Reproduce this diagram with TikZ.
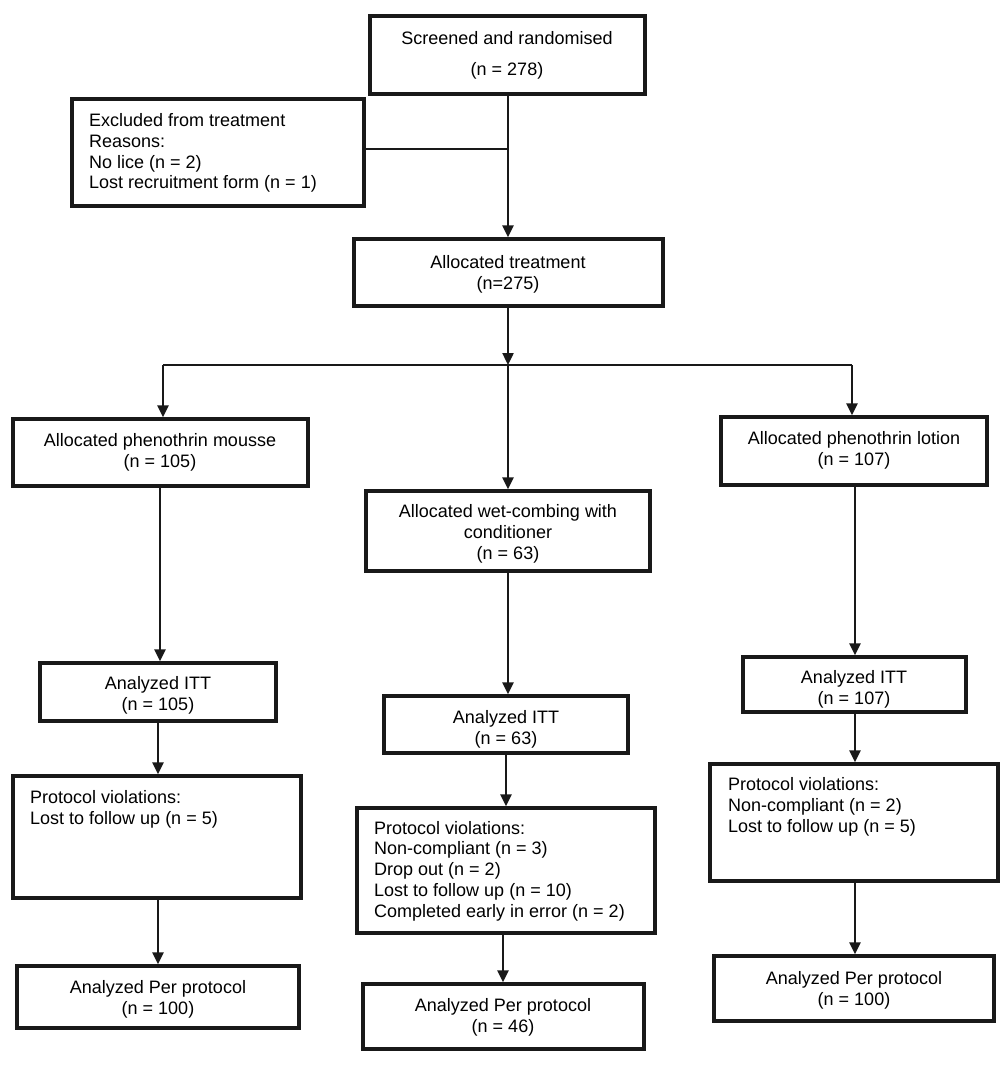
\documentclass[tikz,border=0pt]{standalone}
\usepackage{fontspec}
\setmainfont{Liberation Sans}
\usetikzlibrary{arrows.meta,fit}
\begin{document}
\begin{tikzpicture}[x=1pt,y=-1pt,
  box/.style={draw=black!90, line width=3.4pt, inner sep=0pt, fill=white},
  txt/.style={inner sep=0pt, font=\fontsize{18}{20.7}\selectfont, align=center},
  ltxt/.style={inner sep=0pt, font=\fontsize{18}{20.7}\selectfont, align=left, anchor=west},
  conn/.style={line width=2.4pt, draw=black!90},
  arr/.style={conn, -{Triangle[length=12pt,width=11pt]}}]
\useasboundingbox (0,0) rectangle (1000,1068);
% column coordinates
\coordinate (cM) at (508,0);
\coordinate (cA) at (163,0);
\coordinate (cB) at (852,0);
\coordinate (cA1) at (160,0);
\coordinate (cA2) at (158,0);
\coordinate (cW1) at (508,0);
\coordinate (cW2) at (506,0);
\coordinate (cW3) at (503,0);
\coordinate (cL) at (855,0);
% boxes
\node[box, fit={(370,16) (645,94)}] (scr) {};
\node[box, fit={(72,99) (364,206)}] (exc) {};
\node[box, fit={(354,239) (663,306)}] (alloc) {};
\node[box, fit={(13,419) (308,486)}] (mou) {};
\node[box, fit={(366,491) (650,571)}] (wet) {};
\node[box, fit={(721,417) (987,485)}] (lot) {};
\node[box, fit={(40,663) (276,721)}] (ittM) {};
\node[box, fit={(384,696) (628,753)}] (ittW) {};
\node[box, fit={(743,657) (966,712)}] (ittL) {};
\node[box, fit={(13,776) (301,898)}] (pvM) {};
\node[box, fit={(357,808) (655,933)}] (pvW) {};
\node[box, fit={(710,764) (998,881)}] (pvL) {};
\node[box, fit={(17,966) (299,1028)}] (ppM) {};
\node[box, fit={(363,984) (644,1049)}] (ppW) {};
\node[box, fit={(714,956) (994,1021)}] (ppL) {};
% texts
\node[txt] (scrT) at (507,55) {Screened and randomised\\[10pt](n = 278)};
\node[ltxt] (excT) at (89,153) {Excluded from treatment\\Reasons:\\No lice (n = 2)\\Lost recruitment form (n = 1)};
\node[txt] (allocT) at (508,274) {Allocated treatment\\(n=275)};
\node[txt] (mouT) at (160,452) {Allocated phenothrin mousse\\(n = 105)};
\node[txt] (lotT) at (854,450) {Allocated phenothrin lotion\\(n = 107)};
\node[txt] (wetT) at (508,534) {Allocated wet-combing with\\conditioner\\(n = 63)};
\node[txt] (ittMT) at (158,695) {Analyzed ITT\\(n = 105)};
\node[txt] (ittWT) at (506,729) {Analyzed ITT\\(n = 63)};
\node[txt] (ittLT) at (854,689) {Analyzed ITT\\(n = 107)};
\node[ltxt] (pvMT) at (30,809) {Protocol violations:\\Lost to follow up (n = 5)};
\node[ltxt] (pvWT) at (374,871) {Protocol violations:\\Non-compliant (n = 3)\\Drop out (n = 2)\\Lost to follow up (n = 10)\\Completed early in error (n = 2)};
\node[ltxt] (pvLT) at (728,807) {Protocol violations:\\Non-compliant (n = 2)\\Lost to follow up (n = 5)};
\node[txt] (ppMT) at (158,999) {Analyzed Per protocol\\(n = 100)};
\node[txt] (ppWT) at (503,1017) {Analyzed Per protocol\\(n = 46)};
\node[txt] (ppLT) at (854,990) {Analyzed Per protocol\\(n = 100)};
% junctions
\coordinate (j1) at (508,149);
\coordinate (j2) at (508,365);
\coordinate (jA) at (163,365);
\coordinate (jB) at (852,365);
% connectors
\draw[arr] (scr.south -| cM) -- (alloc.north -| cM);
\draw[conn] (exc.east |- j1) -- (j1);
\draw[arr] (alloc.south -| cM) -- (j2);
\draw[conn] (jA) -- (jB);
\draw[arr] (jA) -- (mou.north -| cA);
\draw[arr] (j2) -- (wet.north -| cW1);
\draw[arr] (jB) -- (lot.north -| cB);
\draw[arr] (mou.south -| cA1) -- (ittM.north -| cA1);
\draw[arr] (ittM.south -| cA2) -- (pvM.north -| cA2);
\draw[arr] (pvM.south -| cA2) -- (ppM.north -| cA2);
\draw[arr] (wet.south -| cW1) -- (ittW.north -| cW1);
\draw[arr] (ittW.south -| cW2) -- (pvW.north -| cW2);
\draw[arr] (pvW.south -| cW3) -- (ppW.north -| cW3);
\draw[arr] (lot.south -| cL) -- (ittL.north -| cL);
\draw[arr] (ittL.south -| cL) -- (pvL.north -| cL);
\draw[arr] (pvL.south -| cL) -- (ppL.north -| cL);
\end{tikzpicture}
\end{document}
